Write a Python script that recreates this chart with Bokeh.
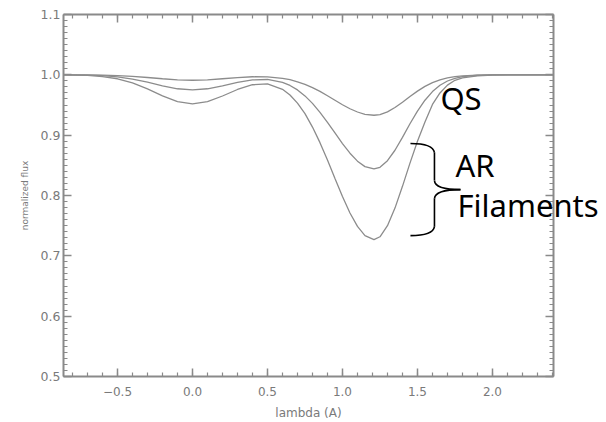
from bokeh.plotting import figure
from bokeh.models import (Range1d, LinearAxis, FixedTicker, PrintfTickFormatter, Label)
from bokeh.embed import file_html
from bokeh.resources import INLINE

# ---- data ----
wavelength = [-0.86, -0.7, -0.6, -0.5, -0.4, -0.3, -0.2, -0.1, 0.0, 0.1, 0.2, 0.3, 0.4, 0.5, 0.6,
              0.65, 0.7, 0.75, 0.8, 0.85, 0.9, 0.95, 1.0, 1.05, 1.1, 1.15, 1.21,
              1.25, 1.3, 1.35, 1.4, 1.45, 1.5, 1.55, 1.6, 1.65, 1.7, 1.75, 1.8,
              1.9, 2.0, 2.1, 2.2, 2.3, 2.41]
flux_qs = [1.0, 0.9998, 0.9995, 0.9988, 0.9975, 0.9956, 0.9935, 0.9917, 0.991, 0.9917, 0.9935, 0.9954,
           0.9968, 0.9967, 0.9943, 0.9919, 0.9885, 0.9842, 0.9788, 0.9725, 0.9654, 0.9579, 0.9505,
           0.9438, 0.9384, 0.9346, 0.933, 0.9341, 0.9386, 0.9458, 0.9546, 0.9641, 0.973, 0.9808,
           0.9871, 0.9918, 0.995, 0.9971, 0.9984, 0.9996, 0.9999, 1.0, 1.0, 1.0, 1.0]
flux_ar = [1.0, 0.9995, 0.9986, 0.9966, 0.993, 0.9878, 0.9818, 0.9769, 0.975, 0.9769, 0.9817, 0.9874,
           0.9915, 0.9923, 0.9876, 0.9824, 0.975, 0.9651, 0.9527, 0.9378, 0.9212, 0.9036, 0.886,
           0.8701, 0.8569, 0.8479, 0.844, 0.8468, 0.8577, 0.875, 0.8964, 0.9189, 0.9399, 0.9579,
           0.9722, 0.9827, 0.9898, 0.9943, 0.997, 0.9993, 0.9999, 1.0, 1.0, 1.0, 1.0]
flux_fil = [1.0, 0.999, 0.997, 0.9935, 0.9867, 0.9766, 0.9652, 0.9557, 0.952, 0.9557, 0.9649, 0.9757,
            0.9836, 0.9849, 0.976, 0.9666, 0.9532, 0.9356, 0.9134, 0.8876, 0.8588, 0.8283, 0.7983,
            0.771, 0.7488, 0.7336, 0.727, 0.7316, 0.7499, 0.7791, 0.8152, 0.8537, 0.89, 0.9219,
            0.951, 0.970, 0.983, 0.991, 0.995, 0.9984, 0.9997, 1.0, 1.0, 1.0, 1.0]

x_ticks = [-0.5, 0.0, 0.5, 1.0, 1.5, 2.0]
x_tick_labels = ["\u22120.5", "0.0", "0.5", "1.0", "1.5", "2.0"]
y_ticks = [0.5, 0.6, 0.7, 0.8, 0.9, 1.0, 1.1]

# annotation texts and positions (data coords)
label_texts = ["QS", "AR"]
label_x = [1.653, 1.753]
label_y = [0.961, 0.850]
fil_text = "Filaments"
fil_y = 0.7850

# curly brace (quadratic segments, data coords)
brace_x0 = [1.4533, 1.6133, 1.6133, 1.7867, 1.6133, 1.6133]
brace_y0 = [0.8861, 0.8711, 0.8247, 0.8098, 0.7949, 0.7484]
brace_x1 = [1.6133, 1.6133, 1.7867, 1.6133, 1.6133, 1.4533]
brace_y1 = [0.8711, 0.8247, 0.8098, 0.7949, 0.7484, 0.7335]
brace_cx = [1.603, 1.6133, 1.617, 1.617, 1.6133, 1.603]
brace_cy = [0.8861, 0.848, 0.8098, 0.8098, 0.772, 0.7335]

AX = "#8a8a8a"
LBL = "#7a7a7a"
CURVE = "#8c8c8c"

p = figure(width=606, height=422, output_backend="svg", toolbar_location=None,
           x_range=Range1d(-0.86, 2.407), y_range=Range1d(0.5, 1.1),
           min_border_left=63, min_border_right=53, min_border_top=14, min_border_bottom=46,
           x_axis_label="lambda (A)", y_axis_label="normalized flux")
p.grid.visible = False
p.outline_line_color = None
p.background_fill_color = "white"
p.border_fill_color = "white"

xt = FixedTicker(ticks=x_ticks, minor_ticks=[round(-0.8 + 0.1 * i, 2) for i in range(33)])
yt = FixedTicker(ticks=y_ticks, minor_ticks=[round(0.5 + 0.01 * i, 2) for i in range(61)])

def style(ax):
    ax.axis_line_color = AX
    ax.axis_line_width = 2
    ax.major_tick_line_color = AX
    ax.minor_tick_line_color = AX
    ax.major_tick_line_width = 1.5
    ax.minor_tick_line_width = 1.2
    ax.major_tick_in = 8
    ax.major_tick_out = 0
    ax.minor_tick_in = 4
    ax.minor_tick_out = 0

xa = p.xaxis[0]
xa.ticker = xt
xa.major_label_overrides = {t: s for t, s in zip(x_ticks, x_tick_labels)}
style(xa)
xa.major_label_text_font = "DejaVu Sans"
xa.major_label_text_font_size = "12px"
xa.major_label_text_color = LBL
xa.major_label_standoff = 10
xa.axis_label_text_font = "DejaVu Sans"
xa.axis_label_text_font_size = "12px"
xa.axis_label_text_font_style = "normal"
xa.axis_label_text_color = LBL
xa.axis_label_standoff = 7

ya = p.yaxis[0]
ya.ticker = yt
ya.formatter = PrintfTickFormatter(format="%.1f")
style(ya)
ya.major_label_text_font = "DejaVu Sans"
ya.major_label_text_font_size = "12.5px"
ya.major_label_text_color = LBL
ya.major_label_standoff = 3
ya.axis_label_text_font = "DejaVu Sans"
ya.axis_label_text_font_size = "9px"
ya.axis_label_text_font_style = "normal"
ya.axis_label_text_color = LBL
ya.axis_label_standoff = 8

top = LinearAxis(ticker=xt)
style(top)
top.major_label_overrides = {t: "" for t in x_ticks}
top.major_label_standoff = 0
p.add_layout(top, "above")
right = LinearAxis(ticker=yt)
style(right)
right.major_label_overrides = {t: "" for t in y_ticks}
right.major_label_standoff = 0
p.add_layout(right, "right")

# "Filaments" crosses the frame edge, so it is drawn as the tick label of a bare right axis
fil_axis = LinearAxis(ticker=FixedTicker(ticks=[fil_y], minor_ticks=[]),
                      major_label_overrides={fil_y: fil_text},
                      axis_line_color=None, major_tick_line_color=None, minor_tick_line_color=None,
                      major_tick_in=0, major_tick_out=0,
                      major_label_text_font="Noto Sans", major_label_text_font_size="31px",
                      major_label_text_color="black", major_label_standoff=-96)
p.add_layout(fil_axis, "right")

for fl in (flux_qs, flux_ar, flux_fil):
    p.line(wavelength, fl, line_color=CURVE, line_width=1.3)

p.quadratic(x0=brace_x0, y0=brace_y0, x1=brace_x1, y1=brace_y1, cx=brace_cx, cy=brace_cy,
            line_color="black", line_width=1.6)

for t, lx, ly in zip(label_texts, label_x, label_y):
    p.add_layout(Label(x=lx, y=ly, text=t, text_font="Noto Sans", text_font_size="31px",
                       text_color="black", text_baseline="alphabetic", text_align="left"))

open("out.html", "w").write(file_html(p, INLINE))
